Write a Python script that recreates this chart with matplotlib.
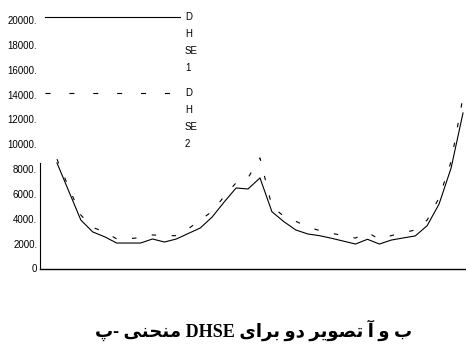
import matplotlib.pyplot as plt
from matplotlib.lines import Line2D

# frame numbers and DHSE values for the two images
frames = [1, 2, 3, 4, 5, 6, 7, 8, 9, 10, 11, 12, 13, 14, 15, 16, 17, 18,
          19, 20, 21, 22, 23, 24, 25, 26, 27, 28, 29, 30, 31, 32, 33, 34, 35]
dhse1 = [8500, 6200, 3900, 2940, 2550, 2050, 2050, 2050, 2375, 2130, 2375, 2820,
         3260, 4150, 5350, 6480, 6400, 7290, 4570, 3770, 3100, 2780, 2640, 2430,
         2200, 1970, 2350, 1970, 2290, 2460, 2620, 3450, 5200, 8080, 12520]
dhse2 = [8800, 6500, 4300, 3300, 2950, 2380, 2400, 2480, 2700, 2650, 2640, 3200,
         3900, 4600, 5800, 6900, 7300, 8900, 5000, 4200, 3800, 3350, 3050, 2830,
         2650, 2450, 2910, 2350, 2650, 2880, 3100, 3900, 5700, 8600, 13800]

yticks = [0, 2000, 4000, 6000, 8000, 10000, 12000, 14000, 16000, 18000, 20000]
ytick_labels = ['0', '2000.', '4000.', '6000.', '8000.', '10000.', '12000.',
                '14000.', '16000.', '18000.', '20000.']
legend_1 = ['D', 'H', 'SE', '1']
legend_2 = ['D', 'H', 'SE', '2']

# caption, already shaped (presentation forms) in the order it is shown
caption = ('\uFB56- \uFBFD\uFEE8\uFEA4\uFEE8\uFEE3 DHSE \uFBFC\uFE8D\uFEAE\uFE91 '
           '\uFEED\uFEA9 \uFEAE\uFBFE\uFEEE\uFEBC\uFE97 \uFE81 \uFEED \uFE8F')

W, H = 466, 352
fig = plt.figure(figsize=(W / 100, H / 100), dpi=100)
ax = fig.add_axes([40 / W, (H - 268.5) / H, 426 / W, 248.5 / H])

dash = (0, (4, 14))
ax.plot(frames, dhse1, color='black', lw=0.8)
ax.plot(frames, dhse2, color='black', lw=0.8, linestyle=dash)

ax.set_xlim(-0.42, 35.25)
ax.set_ylim(0, 20000)
ax.set_xticks([])
ax.set_yticks(yticks)
ax.set_yticklabels(ytick_labels, fontsize=7, family='Liberation Sans')
ax.tick_params(axis='y', length=0, pad=2)
for s in ['top', 'right']:
    ax.spines[s].set_visible(False)
ax.spines['left'].set_bounds(0, 8500)
ax.spines['left'].set_linewidth(0.8)
ax.spines['bottom'].set_linewidth(1.0)


def px(x, y):
    return x / W, 1 - y / H


# hand-made legend
fig.add_artist(Line2D([px(45, 0)[0], px(180, 0)[0]], [px(0, 17)[1]] * 2,
                      color='black', lw=0.8))
fig.add_artist(Line2D([px(45, 0)[0], px(172, 0)[0]], [px(0, 93)[1]] * 2,
                      color='black', lw=0.8, linestyle=(0, (4.5, 17))))
for i, t in enumerate(legend_1):
    fig.text(*px(185, 17 + 17 * i), t, fontsize=7, family='Liberation Sans',
             ha='left', va='center')
for i, t in enumerate(legend_2):
    fig.text(*px(185, 93 + 17 * i), t, fontsize=7, family='Liberation Sans',
             ha='left', va='center')

fig.text(*px(254, 330), caption, fontsize=13, fontweight='bold',
         family=['Liberation Serif', 'DejaVu Sans Condensed', 'DejaVu Sans'],
         ha='center', va='center')

fig.savefig('out.png', dpi=100)
